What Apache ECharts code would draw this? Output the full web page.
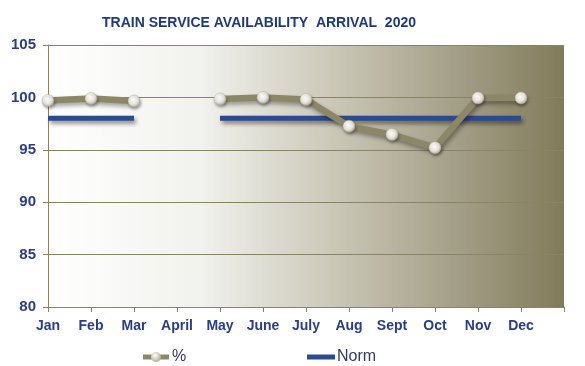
<!DOCTYPE html>
<html>
<head>
<meta charset="utf-8">
<script src="https://cdn.jsdelivr.net/npm/echarts@6/dist/echarts.min.js"></script>
<style>html,body{margin:0;padding:0;background:#fff}#c{width:585px;height:366px}</style>
</head>
<body>
<div id="c"></div>
<script>
const categories = ['Jan','Feb','Mar','April','May','June','July','Aug','Sept','Oct','Nov','Dec',''];
const pctValues = [99.7, 99.9, 99.65, null, 99.85, 100.0, 99.8, 97.25, 96.45, 95.2, 99.95, 99.95, null];
const normValues = [98, 98, 98, null, 98, 98, 98, 98, 98, 98, 98, 98, null];
const yTicks = [80, 85, 90, 95, 100, 105];

const chart = echarts.init(document.getElementById('c'));
const axisColor = '#8b8463';
const labelColor = '#2a3d85';
const font = 'Liberation Sans, Arial, sans-serif';

chart.setOption({
  animation: false,
  title: {
    text: 'TRAIN SERVICE AVAILABILITY  ARRIVAL  2020',
    left: 254, top: 11, textAlign: 'center',
    textStyle: { color: '#1f3a7a', fontSize: 14, fontWeight: 'bold', fontFamily: font }
  },
  legend: [{
    data: [{ name: '%', icon: 'image://data:image/svg+xml;utf8,' + encodeURIComponent('<svg xmlns="http://www.w3.org/2000/svg" width="26" height="12"><defs><radialGradient id="g" cx="0.4" cy="0.35" r="0.7"><stop offset="0" stop-color="#ffffff"/><stop offset="1" stop-color="#aaa690"/></radialGradient></defs><rect x="0" y="3.5" width="26" height="5" fill="#8c8766"/><circle cx="13" cy="6" r="5" fill="url(#g)"/></svg>') }],
    left: 138, top: 344, itemWidth: 26, itemHeight: 12, itemGap: 4,
    textStyle: { color: '#2f3a62', fontSize: 16, fontFamily: font, padding: [0,0,0,-2] }
  }, {
    data: [{ name: 'Norm', icon: 'rect' }],
    left: 302, top: 344, itemWidth: 28, itemHeight: 5,
    textStyle: { color: '#2f3a62', fontSize: 16, fontFamily: font, padding: [0,0,0,-3] }
  }],
  grid: {
    left: 48, right: 21, top: 45, bottom: 59, show: true, borderWidth: 0,
    backgroundColor: new echarts.graphic.LinearGradient(0, 0, 1, 0, [
      { offset: 0, color: '#ffffff' },
      { offset: 0.3, color: '#f1f1ed' },
      { offset: 0.55, color: '#cbc8b8' },
      { offset: 0.8, color: '#a29d85' },
      { offset: 1, color: '#827b5a' }
    ])
  },
  xAxis: {
    type: 'category', data: categories, boundaryGap: false,
    axisLine: { lineStyle: { color: axisColor, width: 1 } },
    axisTick: { show: true, interval: 0, length: 5, lineStyle: { color: axisColor } },
    axisLabel: { interval: 0, color: labelColor, fontWeight: 'bold', fontSize: 14, fontFamily: font, margin: 12 },
    splitLine: { show: false }
  },
  yAxis: {
    type: 'value', min: yTicks[0], max: yTicks[yTicks.length - 1], interval: 5,
    axisLine: { show: true, lineStyle: { color: axisColor, width: 1 } },
    axisTick: { show: true, length: 5, lineStyle: { color: axisColor } },
    axisLabel: { color: labelColor, fontWeight: 'bold', fontSize: 15, fontFamily: font, margin: 12 },
    splitLine: { show: true, lineStyle: { color: axisColor, width: 1 } }
  },
  series: [{
    name: 'Norm', type: 'line', data: normValues, connectNulls: false,
    symbol: 'none', z: 2,
    lineStyle: { color: '#2a4b8c', width: 5, cap: 'butt', shadowColor: 'rgba(0,0,0,0.45)', shadowBlur: 4, shadowOffsetX: 2, shadowOffsetY: 3 },
    itemStyle: { color: '#2a4b8c' }
  }, {
    name: '%', type: 'line', data: pctValues, connectNulls: false,
    symbol: 'circle', symbolSize: 12, z: 3,
    lineStyle: { color: '#8c8766', width: 6.5, shadowColor: 'rgba(0,0,0,0.35)', shadowBlur: 4, shadowOffsetX: 2, shadowOffsetY: 3 },
    itemStyle: {
      color: new echarts.graphic.RadialGradient(0.4, 0.35, 0.7, [
        { offset: 0, color: '#ffffff' },
        { offset: 0.6, color: '#e6e4da' },
        { offset: 1, color: '#a9a58e' }
      ]),
      borderColor: '#b5b19c', borderWidth: 0.5,
      shadowColor: 'rgba(0,0,0,0.35)', shadowBlur: 3, shadowOffsetX: 1, shadowOffsetY: 2
    }
  }]
});
</script>
</body>
</html>
